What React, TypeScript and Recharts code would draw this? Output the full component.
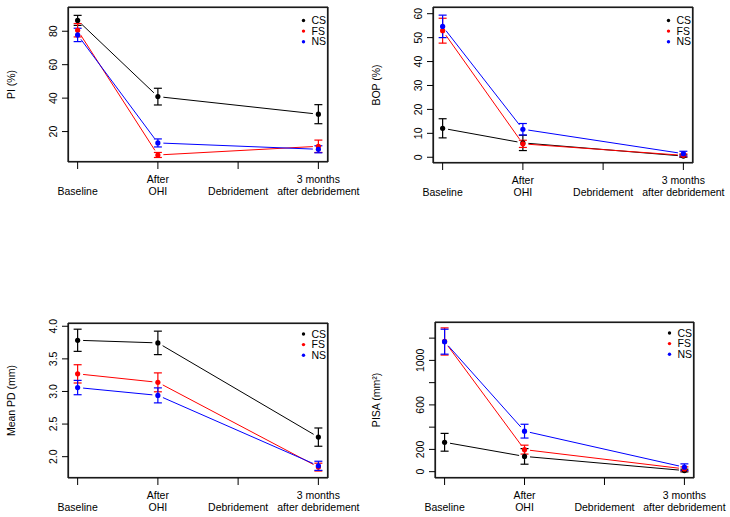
import React from 'react';
import { ComposedChart, Scatter, ErrorBar, XAxis, YAxis, ReferenceLine } from 'recharts';

// time points on the x axis (tick 1..4); measurements exist at 1, 2 and 4 only
const timepoints = ['Baseline', 'After\nOHI', 'Debridement', '3 months\nafter debridement'];
const timeTicks = [1, 2, 3, 4];
const measuredAt = [1, 2, 4];

const groups = ['CS', 'FS', 'NS'];
const groupColors = ['#000000', '#ff0000', '#0000ff'];

// PI (%)
const piCS = [86.5, 40.9, 30.4];
const piFS = [80.6, 6.0, 11.2];
const piNS = [77.8, 13.2, 9.4];
const piCSErr = [3.0, 5.0, 5.7];
const piFSErr = [4.0, 1.5, 3.7];
const piNSErr = [4.0, 2.4, 2.1];
const piTicks = [20, 40, 60, 80];

// BOP (%)
const bopCS = [12.1, 6.0, 0.5];
const bopFS = [52.9, 5.6, 0.8];
const bopNS = [54.7, 11.7, 1.5];
const bopCSErr = [4.0, 3.2, 0.5];
const bopFSErr = [5.2, 1.5, 0.6];
const bopNSErr = [4.7, 2.4, 1.0];
const bopTicks = [0, 10, 20, 30, 40, 50, 60];

// Mean PD (mm)
const pdCS = [3.785, 3.745, 2.3];
const pdFS = [3.27, 3.14, 1.84];
const pdNS = [3.06, 2.94, 1.86];
const pdCSErr = [0.17, 0.18, 0.14];
const pdFSErr = [0.14, 0.145, 0.06];
const pdNSErr = [0.11, 0.115, 0.07];
const pdTicks = [2.0, 2.5, 3.0, 3.5, 4.0];
const pdTickLabels = ['2.0', '2.5', '3.0', '3.5', '4.0'];

// PISA (mm²)
const pisaCS = [264, 137, 10];
const pisaFS = [1170, 198, 25];
const pisaNS = [1168, 364, 40];
const pisaCSErr = [80, 70, 12];
const pisaFSErr = [122, 40, 18];
const pisaNSErr = [112, 62, 30];
const pisaTicks = [0, 200, 400, 600, 800, 1000, 1200];
const pisaTickLabels = ['0', '200', '', '600', '', '1000', ''];

const ink = '#000000';
const boxInk = '#1a1a1a';
const font = '"Liberation Sans", Arial, sans-serif';
const fontSize = 10.5;
const xDomain: [number, number] = [0.88, 4.12];
const GAP = 5.5; // R type="b": segments stop short of the points

const toPoints = (means: number[], errs: number[]) =>
    measuredAt.map((x, i) => ({ x, y: means[i], e: errs[i] }));

// draws the scatter's connecting line as segments with a gap at each point
const GappedLine = (props: any) => {
    const pts = (props.points || []).filter((q: any) => q && q.x != null && q.y != null);
    const segs = [];
    for (let i = 0; i < pts.length - 1; i++) {
        const a = pts[i];
        const b = pts[i + 1];
        const dx = b.x - a.x;
        const dy = b.y - a.y;
        const len = Math.sqrt(dx * dx + dy * dy);
        if (len <= GAP * 2) continue;
        const ux = dx / len;
        const uy = dy / len;
        segs.push(
            <line key={i} x1={a.x + ux * GAP} y1={a.y + uy * GAP} x2={b.x - ux * GAP} y2={b.y - uy * GAP}
                stroke={props.stroke} strokeWidth={props.strokeWidth || 1} />
        );
    }
    return <g>{segs}</g>;
};

interface PanelProps {
    left: number;
    top: number;
    height: number;
    plotTop: number;
    plotLeft: number;
    plotRight: number;
    axisHeight: number;
    legendTop: number;
    title: string;
    yDomain: [number, number];
    yTicks: number[];
    yLabels?: string[];
    values: number[][];
    errors: number[][];
}

const Panel: React.FC<PanelProps> = (p) => {
    const width = 365;
    const plotBottom = p.height - p.axisHeight;
    const series = groups.map((g, i) => ({ name: g, color: groupColors[i], points: toPoints(p.values[i], p.errors[i]) }));

    const xTick = (props: any) => {
        const lines = timepoints[props.payload.value - 1].split('\n');
        return (
            <g>
                {lines.map((ln, i) => (
                    <text key={i} x={props.x} y={plotBottom + 32.5 - (lines.length - 1 - i) * 12}
                        textAnchor="middle" fontSize={fontSize} fontFamily={font} fill={ink}>{ln}</text>
                ))}
            </g>
        );
    };

    const yTick = (props: any) => {
        const idx = p.yTicks.indexOf(props.payload.value);
        const label = p.yLabels ? p.yLabels[idx] : String(props.payload.value);
        if (!label) return <g />;
        return (
            <text transform={`translate(${p.plotLeft - 11},${props.y}) rotate(-90)`} textAnchor="middle"
                fontSize={fontSize} fontFamily={font} fill={ink}>{label}</text>
        );
    };

    const midY = (p.plotTop + plotBottom) / 2;

    return (
        <div style={{ position: 'absolute', left: p.left, top: p.top, width, height: p.height }}>
            <ComposedChart width={width} height={p.height}
                margin={{ top: p.plotTop, right: width - p.plotRight, left: 0, bottom: 0 }}>
                <XAxis type="number" dataKey="x" domain={xDomain} ticks={timeTicks} allowDataOverflow interval={0}
                    axisLine={false} tickLine={{ stroke: ink }} tickSize={7} height={p.axisHeight} tick={xTick} />
                <YAxis type="number" dataKey="y" domain={p.yDomain} ticks={p.yTicks} allowDataOverflow interval={0}
                    axisLine={false} tickLine={{ stroke: ink }} tickSize={6} width={p.plotLeft} tick={yTick} />
                {/* plot frame */}
                <ReferenceLine x={xDomain[0]} stroke={boxInk} strokeWidth={1.2} ifOverflow="visible" />
                <ReferenceLine x={xDomain[1]} stroke={boxInk} strokeWidth={1.2} ifOverflow="visible" />
                <ReferenceLine y={p.yDomain[0]} stroke={boxInk} strokeWidth={1.2} ifOverflow="visible" />
                <ReferenceLine y={p.yDomain[1]} stroke={boxInk} strokeWidth={1.2} ifOverflow="visible" />
                {series.map((s) => (
                    <Scatter key={s.name} data={s.points} fill={s.color} isAnimationActive={false}
                        line={<GappedLine stroke={s.color} strokeWidth={1} />} lineType="joint"
                        shape={(d: any) => <circle cx={d.cx} cy={d.cy} r={2.6} fill={s.color} />}>
                        <ErrorBar dataKey="e" direction="y" width={4} stroke={s.color} strokeWidth={1.2} />
                    </Scatter>
                ))}
            </ComposedChart>
            <svg width={width} height={p.height} style={{ position: 'absolute', left: 0, top: 0 }}>
                <rect x={p.plotLeft + 0.5} y={p.plotTop + 0.5} width={p.plotRight - p.plotLeft - 1}
                    height={plotBottom - p.plotTop - 1} fill="none" stroke={boxInk} strokeWidth={1.2} />
                <text transform={`translate(15,${midY}) rotate(-90)`} textAnchor="middle"
                    fontSize={fontSize} fontFamily={font} fill={ink}>{p.title}</text>
                {series.map((s, i) => (
                    <g key={s.name}>
                        <circle cx={p.plotRight - 24.5} cy={p.plotTop + p.legendTop + i * 10.6} r={1.7} fill={s.color} />
                        <text x={p.plotRight - 16.5} y={p.plotTop + p.legendTop + i * 10.6 + 3.6}
                            fontSize={fontSize} fontFamily={font} fill={ink}>{s.name}</text>
                    </g>
                ))}
            </svg>
        </div>
    );
};

export default function App() {
    return (
        <div style={{ position: 'absolute', left: 0, top: 0, width: 730, height: 517, background: '#ffffff' }}>
            <Panel left={0} top={0} height={200} plotTop={7} plotLeft={68} plotRight={328} axisHeight={38}
                legendTop={13.5} title="PI (%)" yDomain={[1.8, 94.5]} yTicks={piTicks}
                values={[piCS, piFS, piNS]} errors={[piCSErr, piFSErr, piNSErr]} />
            <Panel left={365} top={0} height={200} plotTop={7} plotLeft={68} plotRight={328} axisHeight={37}
                legendTop={13.5} title="BOP (%)" yDomain={[-2.4, 62.8]} yTicks={bopTicks}
                values={[bopCS, bopFS, bopNS]} errors={[bopCSErr, bopFSErr, bopNSErr]} />
            <Panel left={0} top={316} height={200} plotTop={7} plotLeft={68} plotRight={328} axisHeight={38}
                legendTop={11} title="Mean PD (mm)" yDomain={[1.673, 4.05]} yTicks={pdTicks} yLabels={pdTickLabels}
                values={[pdCS, pdFS, pdNS]} errors={[pdCSErr, pdFSErr, pdNSErr]} />
            <Panel left={365} top={315} height={201} plotTop={7} plotLeft={70} plotRight={329} axisHeight={38}
                legendTop={11} title="PISA (mm²)" yDomain={[-57, 1345]} yTicks={pisaTicks} yLabels={pisaTickLabels}
                values={[pisaCS, pisaFS, pisaNS]} errors={[pisaCSErr, pisaFSErr, pisaNSErr]} />
        </div>
    );
}
